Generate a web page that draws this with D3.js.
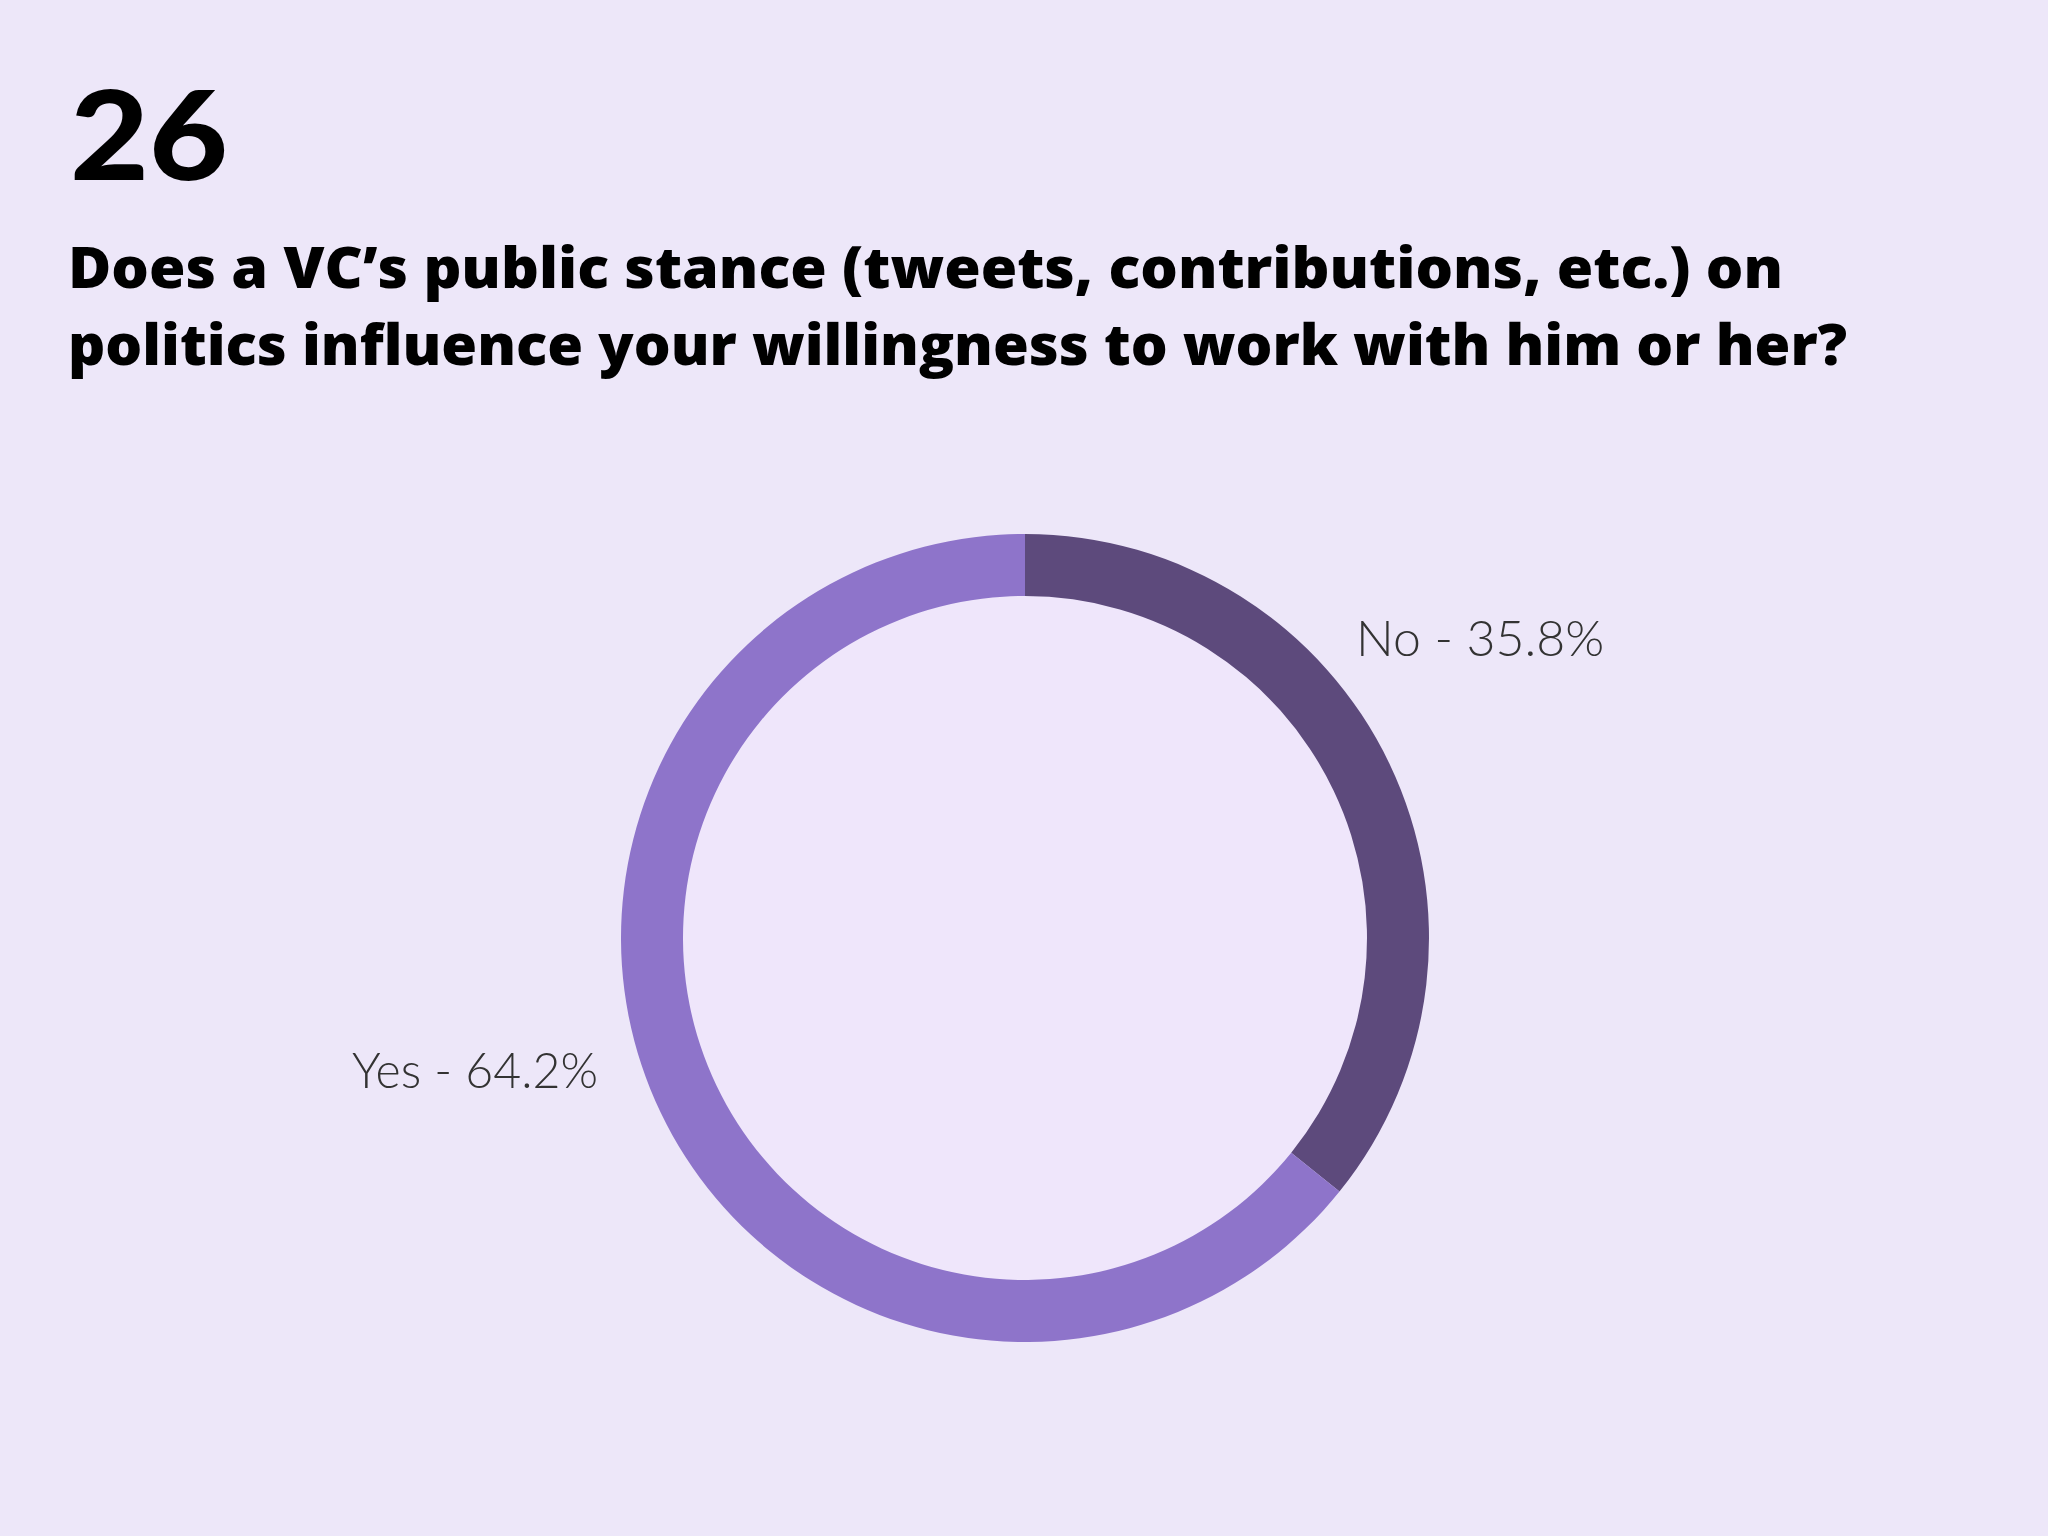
<!doctype html>
<html>
<head>
  <meta charset="utf-8">
  <title>26</title>
  <style>
    html, body { margin: 0; padding: 0; background: #ede7f9; }
    svg { display: block; }
  </style>
</head>
<body>
  <svg id="chart" width="2048" height="1536"></svg>
  <script src="https://d3js.org/d3.v7.min.js"></script>
  <script>
    const categories = ['No', 'Yes'];
    const values = [35.8, 64.2];
    const colors = ['#5d4a7c', '#8e74ca'];

    const svg = d3.select('#chart');
    svg.append('rect').attr('width', 2048).attr('height', 1536).attr('fill', '#ede7f9');

    svg.append('text').attr('x', 70).attr('y', 180)
      .attr('textLength', 158).attr('lengthAdjust', 'spacingAndGlyphs')
      .style('font', '900 124px Lato').attr('fill', '#000').text('26');

    const q = ['Does a VC’s public stance (tweets, contributions, etc.) on',
               'politics influence your willingness to work with him or her?'];
    const qLen = [1715, 1779];
    svg.selectAll('.q').data(q).join('text')
      .attr('x', 68).attr('y', (d, i) => 288 + i * 77)
      .attr('textLength', (d, i) => qLen[i]).attr('lengthAdjust', 'spacingAndGlyphs')
      .style('font', '800 56px "Open Sans"').attr('fill', '#000').text(d => d);

    const cx = 1025, cy = 938;
    const pie = d3.pie().sort(null).value(d => d)(values);
    const arc = d3.arc().innerRadius(342).outerRadius(404);
    const g = svg.append('g').attr('transform', `translate(${cx},${cy})`);
    g.append('circle').attr('r', 342).attr('fill', '#efe6fb');
    g.selectAll('path').data(pie).join('path')
      .attr('d', arc).attr('fill', (d, i) => colors[i]);

    // labels
    svg.append('text').attr('x', 1356).attr('y', 656)
      .style('font', '300 50px Lato').attr('fill', '#333')
      .text(`${categories[0]} - ${values[0]}%`);
    svg.append('text').attr('x', 598).attr('y', 1088).attr('text-anchor', 'end')
      .attr('textLength', 246).attr('lengthAdjust', 'spacingAndGlyphs')
      .style('font', '300 50px Lato').attr('fill', '#333')
      .text(`${categories[1]} - ${values[1]}%`);
  </script>
</body>
</html>
